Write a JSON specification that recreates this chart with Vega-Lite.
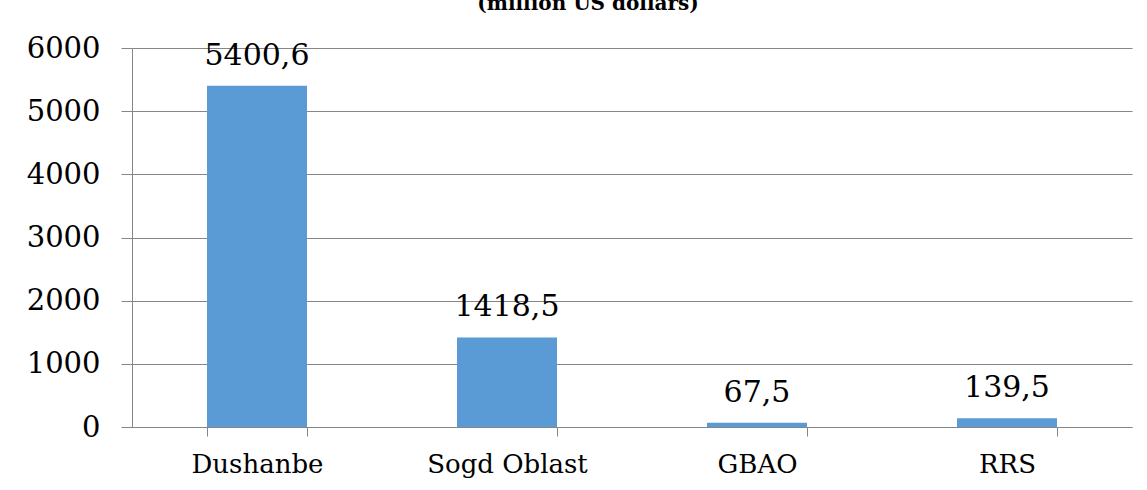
{
  "$schema": "https://vega.github.io/schema/vega-lite/v6.json",
  "autosize": "none",
  "width": 1000,
  "height": 379,
  "padding": {"left": 132, "top": 48, "right": 15, "bottom": 63},
  "background": "white",
  "config": {
    "font": "DejaVu Serif",
    "view": {"stroke": null},
    "locale": {"number": {"decimal": ",", "thousands": "", "grouping": [3], "currency": ["", ""]}}
  },
  "title": {
    "text": "(million US dollars)",
    "font": "DejaVu Serif",
    "fontSize": 20,
    "fontWeight": "bold",
    "color": "black",
    "frame": "group",
    "offset": 20,
    "dx": -44
  },
  "data": {
    "values": [
      {"region": "Dushanbe", "value": 5400.6},
      {"region": "Sogd Oblast", "value": 1418.5},
      {"region": "GBAO", "value": 67.5},
      {"region": "RRS", "value": 139.5}
    ]
  },
  "encoding": {
    "x": {
      "field": "region",
      "type": "nominal",
      "sort": null,
      "scale": {"paddingInner": 0.6, "paddingOuter": 0.3},
      "axis": {
        "title": null,
        "labelAngle": 0,
        "labelFont": "DejaVu Serif",
        "labelFontSize": 26,
        "labelColor": "black",
        "labelPadding": 15,
        "tickBand": "extent",
        "tickSize": 9,
        "tickColor": "#868686",
        "domainColor": "#868686",
        "grid": false
      }
    },
    "y": {
      "field": "value",
      "type": "quantitative",
      "scale": {"domain": [0, 6000]},
      "axis": {
        "title": null,
        "values": [0, 1000, 2000, 3000, 4000, 5000, 6000],
        "format": "d",
        "labelFont": "DejaVu Serif",
        "labelFontSize": 29,
        "labelColor": "black",
        "labelPadding": 21,
        "tickSize": 11,
        "tickColor": "#868686",
        "domainColor": "#868686",
        "gridColor": "#868686",
        "gridOpacity": 1
      }
    }
  },
  "layer": [
    {"mark": {"type": "bar", "color": "#5B9BD5"}},
    {
      "mark": {"type": "text", "baseline": "alphabetic", "dy": -21, "fontSize": 30, "color": "black", "font": "DejaVu Serif"},
      "encoding": {"text": {"field": "value", "type": "quantitative", "format": ".1f"}}
    }
  ]
}
